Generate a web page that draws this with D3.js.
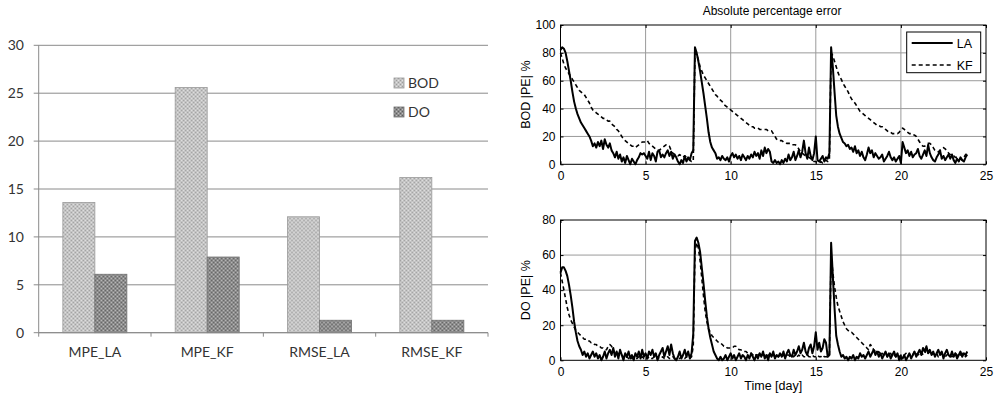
<!DOCTYPE html>
<html>
<head>
<meta charset="utf-8">
<script src="https://cdn.jsdelivr.net/npm/d3@7"></script>
<style>
body { margin: 0; background: #fff; }
svg { display: block; }
.xl { font-family: Lato, "Open Sans", sans-serif; font-size: 14px; fill: #333; }
.ml { font-family: "Liberation Sans", Arial, sans-serif; fill: #000; }
</style>
</head>
<body>
<script>
"use strict";

///////////////////
// data
///////////////////

// left: error indices (bar chart)
var categories = ["MPE_LA", "MPE_KF", "RMSE_LA", "RMSE_KF"];
var seriesNames = ["BOD", "DO"];
var bodValues = [13.6, 25.6, 12.1, 16.2];
var doValues = [6.1, 7.9, 1.3, 1.3];
var barTicks = [0, 5, 10, 15, 20, 25, 30];

// right: absolute percentage error, one value every 0.1 day
var timeStep = 0.1;
var timeTicks = [0, 5, 10, 15, 20, 25];
var bodTicks = [0, 20, 40, 60, 80, 100];
var doTicks = [0, 20, 40, 60, 80];

var bodLA = [
    82, 84, 83, 80, 74, 67, 60, 52, 45, 40,
    36, 33, 30, 28, 26, 24, 22, 20, 17, 13,
    15, 12, 16, 13, 17, 11, 18, 14, 12, 15,
    10, 8, 5, 9, 4, 7, 2, 5, 1, 6,
    3, 0, 4, 2, 0, 3, 5, 8, 7, 8,
    6, 4, 9, 3, 8, 6, 2, 9, 10, 5,
    7, 5, 8, 10, 6, 9, 4, 7, 5, 2,
    0, 3, 1, 6, 2, 5, 3, 8, 10, 84,
    80, 74, 67, 59, 51, 42, 33, 23, 16, 12,
    10, 8, 4, 5, 3, 6, 4, 3, 5, 2,
    6, 8, 5, 7, 4, 6, 3, 7, 5, 3,
    6, 4, 7, 5, 9, 6, 8, 4, 10, 6,
    12, 8, 11, 9, 2, 1, 3, 1, 2, 0,
    3, 1, 4, 2, 7, 3, 5, 9, 3, 6,
    10, 5, 9, 17, 8, 4, 12, 6, 3, 8,
    20, 3, 2, 4, 6, 2, 5, 4, 8, 84,
    70, 52, 35, 27, 22, 19, 16, 15, 13, 14,
    11, 12, 9, 13, 8, 10, 6, 9, 5, 3,
    7, 12, 8, 10, 5, 8, 6, 4, 5, 7,
    2, 4, 6, 9, 5, 3, 5, 2, 4, 6,
    1, 16, 12, 8, 10, 6, 9, 5, 7, 8,
    11, 6, 4, 7, 10, 6, 14, 8, 5, 3,
    2, 5, 7, 10, 4, 6, 3, 5, 7, 4,
    7, 3, 1, 4, 2, 5, 3, 2, 5, 7
];
var bodKF = [
    80, 76, 72, 69, 67, 65, 63, 61, 59, 57,
    55, 53, 52, 51, 50, 48, 46, 44, 41, 39,
    38, 37, 36, 35, 34, 33, 33, 32, 31, 31,
    29, 28, 27, 25, 24, 22, 20, 18, 17, 16,
    15, 14, 13, 13, 12, 13, 14, 15, 16, 16,
    16, 17, 15, 14, 13, 12, 11, 10, 10, 11,
    12, 13, 14, 14, 13, 10, 8, 7, 7, 6,
    7, 6, 5, 6, 5, 4, 3, 2, 2, 80,
    79, 75, 70, 67, 64, 62, 60, 58, 56, 54,
    52, 50, 49, 47, 46, 45, 43, 42, 41, 40,
    39, 38, 37, 36, 35, 34, 33, 32, 31, 30,
    29, 28, 27, 27, 26, 26, 26, 25, 25, 25,
    25, 25, 24, 24, 24, 22, 20, 18, 17, 17,
    17, 16, 16, 15, 15, 15, 14, 14, 14, 13,
    11, 9, 8, 7, 6, 6, 5, 4, 3, 2,
    2, 1, 1, 2, 1, 2, 3, 2, 3, 80,
    78, 74, 70, 66, 63, 61, 58, 56, 54, 52,
    49, 47, 45, 44, 42, 40, 38, 37, 36, 35,
    34, 33, 32, 31, 30, 29, 28, 28, 27, 27,
    26, 25, 24, 23, 23, 22, 22, 22, 22, 23,
    25, 26, 25, 24, 23, 22, 22, 21, 21, 20,
    18, 16, 14, 13, 13, 14, 15, 15, 14, 12,
    10, 9, 9, 10, 11, 12, 11, 10, 8, 7,
    6, 6, 5, 5, 4, 4, 3, 5, 7, 8
];
var doLA = [
    50, 53, 53, 51, 48, 43, 37, 30, 22, 16,
    11, 8, 6, 3, 5, 2, 4, 1, 3, 5,
    2, 4, 1, 3, 0, 2, 5, 1, 4, 6,
    3, 7, 2, 5, 1, 6, 3, 0, 4, 2,
    5, 1, 3, 0, 4, 2, 5, 1, 6, 2,
    4, 1, 5, 3, 6, 2, 4, 0, 3, 5,
    7, 2, 5, 8, 3, 9, 4, 1, 0, 2,
    5, 1, 3, 6, 2, 5, 1, 4, 15, 68,
    70, 67, 62, 53, 44, 34, 25, 18, 13, 9,
    5, 3, 1, 0, 2, 0, 1, 3, 0, 2,
    4, 1, 3, 0, 2, 4, 1, 3, 2, 0,
    3, 1, 4, 2, 0, 3, 1, 4, 2, 5,
    1, 3, 0, 4, 2, 5, 1, 3, 2, 4,
    2, 5, 1, 4, 6, 3, 2, 6, 3, 5,
    8, 4, 6, 10, 5, 3, 7, 9, 4, 8,
    16, 6, 10, 5, 7, 12, 10, 2, 3, 67,
    48, 30, 14, 9, 5, 2, 3, 1, 2, 0,
    2, 1, 3, 0, 2, 1, 4, 2, 3, 1,
    3, 5, 2, 4, 6, 3, 5, 2, 4, 1,
    3, 5, 2, 4, 1, 3, 5, 2, 4, 0,
    2, 1, 3, 0, 2, 4, 1, 3, 5, 2,
    4, 6, 3, 7, 5, 8, 4, 6, 3, 5,
    2, 4, 6, 3, 5, 1, 4, 6, 3, 2,
    5, 2, 4, 1, 3, 5, 2, 4, 3, 5
];
var doKF = [
    50, 45, 40, 35, 30, 26, 23, 21, 19, 17,
    16, 15, 14, 13, 12, 12, 11, 11, 10, 10,
    9, 9, 8, 8, 7, 7, 6, 6, 8, 9,
    8, 6, 4, 3, 4, 2, 3, 2, 1, 2,
    1, 2, 1, 2, 1, 1, 2, 1, 2, 1,
    2, 1, 2, 1, 1, 2, 1, 2, 1, 1,
    2, 1, 1, 2, 1, 1, 2, 1, 1, 1,
    1, 2, 1, 1, 2, 1, 1, 2, 8, 62,
    67, 64, 57, 47, 37, 28, 22, 18, 16, 14,
    13, 12, 11, 10, 10, 9, 8, 8, 7, 7,
    7, 7, 8, 8, 7, 6, 6, 5, 5, 5,
    4, 4, 4, 3, 4, 3, 3, 4, 3, 3,
    3, 2, 3, 3, 2, 3, 2, 3, 2, 3,
    2, 3, 2, 3, 3, 2, 3, 2, 3, 2,
    3, 2, 3, 2, 2, 3, 2, 2, 3, 2,
    2, 3, 2, 2, 3, 2, 2, 2, 3, 60,
    50, 42, 36, 31, 28, 25, 22, 20, 18, 17,
    16, 16, 15, 14, 13, 12, 11, 10, 9, 8,
    7, 6, 9, 8, 6, 5, 4, 5, 3, 4,
    3, 4, 2, 3, 4, 2, 3, 2, 3, 2,
    3, 2, 3, 4, 2, 3, 4, 3, 5, 4,
    3, 4, 5, 3, 4, 6, 4, 5, 3, 4,
    3, 4, 2, 3, 4, 3, 2, 3, 4, 3,
    2, 3, 4, 3, 2, 3, 4, 3, 2, 3
];

///////////////////
// functions
///////////////////

function addDotPattern(defs, id, base, dark, light) {
    var p = defs.append("pattern")
        .attr("id", id)
        .attr("width", 4)
        .attr("height", 4)
        .attr("patternUnits", "userSpaceOnUse");
    p.append("rect").attr("width", 4).attr("height", 4).attr("fill", base);
    [[0, 0], [2, 2]].forEach(function(c) {
        p.append("rect").attr("x", c[0]).attr("y", c[1])
            .attr("width", 1).attr("height", 1).attr("fill", dark);
    });
    [[2, 0], [0, 2]].forEach(function(c) {
        p.append("rect").attr("x", c[0]).attr("y", c[1])
            .attr("width", 1).attr("height", 1).attr("fill", light);
    });
}

// one matlab-like panel: box, grid, inward ticks, tick labels
function drawPanel(svg, x, y, yTicks, series, yLabel, showXLabel) {
    var g = svg.append("g");
    var x0 = x.range()[0], x1 = x.range()[1];
    var y0 = y.range()[0], y1 = y.range()[1];

    // grid
    g.selectAll("line.gx")
        .data(timeTicks.slice(1, -1))
        .enter().append("line")
        .attr("x1", function(d) { return x(d); })
        .attr("x2", function(d) { return x(d); })
        .attr("y1", y0).attr("y2", y1)
        .attr("stroke", "#9a9a9a").attr("stroke-width", 1);
    g.selectAll("line.gy")
        .data(yTicks.slice(1, -1))
        .enter().append("line")
        .attr("x1", x0).attr("x2", x1)
        .attr("y1", function(d) { return y(d); })
        .attr("y2", function(d) { return y(d); })
        .attr("stroke", "#9a9a9a").attr("stroke-width", 1);

    // lines
    series.forEach(function(s) {
        var line = d3.line()
            .x(function(d, i) { return x(i * timeStep); })
            .y(function(d) { return y(d); });
        g.append("path")
            .datum(s.values)
            .attr("d", line)
            .attr("fill", "none")
            .attr("stroke", "#000")
            .attr("stroke-width", s.dash ? 1.6 : 2)
            .attr("stroke-dasharray", s.dash ? "4,3" : null)
            .attr("stroke-linejoin", "round");
    });

    // axes (ticks point inwards)
    g.append("g")
        .attr("class", "ml")
        .attr("transform", "translate(0," + y0 + ")")
        .call(d3.axisBottom(x).tickValues(timeTicks).tickSizeInner(-3).tickSizeOuter(0).tickPadding(7))
        .call(function(a) { a.select(".domain").remove(); a.selectAll("text").attr("font-size", 12).attr("fill", "#000"); });
    g.append("g")
        .attr("transform", "translate(0," + y1 + ")")
        .call(d3.axisTop(x).tickValues(timeTicks).tickSizeInner(-3).tickSizeOuter(0).tickFormat(""))
        .call(function(a) { a.select(".domain").remove(); });
    g.append("g")
        .attr("class", "ml")
        .attr("transform", "translate(" + x0 + ",0)")
        .call(d3.axisLeft(y).tickValues(yTicks).tickSizeInner(-3).tickSizeOuter(0).tickPadding(5))
        .call(function(a) { a.select(".domain").remove(); a.selectAll("text").attr("font-size", 12).attr("fill", "#000"); });
    g.append("g")
        .attr("transform", "translate(" + x1 + ",0)")
        .call(d3.axisRight(y).tickValues(yTicks).tickSizeInner(-3).tickSizeOuter(0).tickFormat(""))
        .call(function(a) { a.select(".domain").remove(); });

    // box
    g.append("rect")
        .attr("x", x0).attr("y", y1)
        .attr("width", x1 - x0).attr("height", y0 - y1)
        .attr("fill", "none").attr("stroke", "#000").attr("stroke-width", 1);

    // y label
    g.append("text")
        .attr("class", "ml")
        .attr("transform", "translate(" + (x0 - 31) + "," + ((y0 + y1) / 2) + ") rotate(-90)")
        .attr("text-anchor", "middle")
        .attr("font-size", 12.5)
        .text(yLabel);

    if (showXLabel) {
        g.append("text")
            .attr("class", "ml")
            .attr("x", (x0 + x1) / 2)
            .attr("y", y0 + 30)
            .attr("text-anchor", "middle")
            .attr("font-size", 12.5)
            .text("Time [day]");
    }
    return g;
}

(function() {

    var svg = d3.select("body").append("svg")
        .attr("width", 996)
        .attr("height", 398);

    var defs = svg.append("defs");
    addDotPattern(defs, "patBOD", "#c4c4c4", "#9e9e9e", "#e2e2e2");
    addDotPattern(defs, "patDO", "#8c8c8c", "#606060", "#bdbdbd");
    var patterns = { "BOD": "url(#patBOD)", "DO": "url(#patDO)" };
    var edges = { "BOD": "#9a9a9a", "DO": "#707070" };

    ///////////////////
    // left: bar chart
    ///////////////////

    var bx = d3.scaleBand()
        .domain(categories)
        .range([38.7, 488])
        .paddingInner(0.43)
        .paddingOuter(0.215);
    var bs = d3.scaleBand()
        .domain(seriesNames)
        .range([0, bx.bandwidth()]);
    var by = d3.scaleLinear()
        .domain([0, 30])
        .range([332.7, 45.3]);

    var rows = categories.map(function(c, i) {
        return { cat: c, values: [
            { name: "BOD", value: bodValues[i] },
            { name: "DO", value: doValues[i] }
        ] };
    });

    // gridlines + y labels
    svg.selectAll("line.bgrid")
        .data(barTicks)
        .enter().append("line")
        .attr("class", "bgrid")
        .attr("x1", 33.7).attr("x2", 488)
        .attr("y1", function(d) { return by(d); })
        .attr("y2", function(d) { return by(d); })
        .attr("stroke", "#8a8a8a").attr("stroke-width", 1);
    svg.selectAll("text.bytick")
        .data(barTicks)
        .enter().append("text")
        .attr("class", "xl bytick")
        .attr("x", 24)
        .attr("y", function(d) { return by(d) + 5; })
        .attr("text-anchor", "end")
        .text(function(d) { return d; });

    // value axis line
    svg.append("line")
        .attr("x1", 38.7).attr("x2", 38.7)
        .attr("y1", by(30)).attr("y2", by(0))
        .attr("stroke", "#8a8a8a").attr("stroke-width", 1);

    // bars
    var groups = svg.selectAll("g.cat")
        .data(rows)
        .enter().append("g")
        .attr("class", "cat")
        .attr("transform", function(d) { return "translate(" + bx(d.cat) + ",0)"; });
    groups.selectAll("rect")
        .data(function(d) { return d.values; })
        .enter().append("rect")
        .attr("x", function(d) { return bs(d.name); })
        .attr("y", function(d) { return by(d.value); })
        .attr("width", bs.bandwidth())
        .attr("height", function(d) { return by(0) - by(d.value); })
        .attr("fill", function(d) { return patterns[d.name]; })
        .attr("stroke", function(d) { return edges[d.name]; })
        .attr("stroke-width", 0.8);

    // category axis
    svg.append("line")
        .attr("x1", 38.7).attr("x2", 488)
        .attr("y1", by(0)).attr("y2", by(0))
        .attr("stroke", "#8a8a8a").attr("stroke-width", 1);
    var step = bx.step();
    svg.selectAll("line.btick")
        .data(d3.range(categories.length + 1))
        .enter().append("line")
        .attr("x1", function(i) { return 38.7 + i * step; })
        .attr("x2", function(i) { return 38.7 + i * step; })
        .attr("y1", by(0)).attr("y2", by(0) + 4)
        .attr("stroke", "#8a8a8a");
    svg.selectAll("text.bcat")
        .data(categories)
        .enter().append("text")
        .attr("class", "xl bcat")
        .attr("x", function(d) { return bx(d) + bx.bandwidth() / 2; })
        .attr("y", 357)
        .attr("text-anchor", "middle")
        .text(function(d) { return d; });

    // legend
    var leg = svg.selectAll("g.bleg")
        .data(seriesNames)
        .enter().append("g")
        .attr("class", "bleg")
        .attr("transform", function(d, i) { return "translate(394," + (78 + i * 29) + ")"; });
    leg.append("rect")
        .attr("width", 10).attr("height", 10)
        .attr("fill", function(d) { return patterns[d]; })
        .attr("stroke", function(d) { return edges[d]; })
        .attr("stroke-width", 0.8);
    leg.append("text")
        .attr("class", "xl")
        .attr("x", 14)
        .attr("y", 10)
        .text(function(d) { return d; });

    ///////////////////
    // right: APE panels
    ///////////////////

    var tx = d3.scaleLinear().domain([0, 25]).range([560.5, 986]);
    var yTop = d3.scaleLinear().domain([0, 100]).range([164.3, 25]);
    var yBot = d3.scaleLinear().domain([0, 80]).range([360.3, 220]);

    drawPanel(svg, tx, yTop, bodTicks,
        [{ values: bodKF, dash: true }, { values: bodLA, dash: false }],
        "BOD |PE| %", false);
    drawPanel(svg, tx, yBot, doTicks,
        [{ values: doKF, dash: true }, { values: doLA, dash: false }],
        "DO |PE| %", true);

    svg.append("text")
        .attr("class", "ml")
        .attr("x", 772)
        .attr("y", 15)
        .attr("text-anchor", "middle")
        .attr("font-size", 12)
        .text("Absolute percentage error");

    // legend box
    var lg = svg.append("g").attr("transform", "translate(906.7,32)");
    lg.append("rect")
        .attr("width", 74).attr("height", 40.7)
        .attr("fill", "#fff").attr("stroke", "#000").attr("stroke-width", 1);
    [{ name: "LA", dash: false }, { name: "KF", dash: true }].forEach(function(d, i) {
        var yy = 11 + i * 22;
        lg.append("line")
            .attr("x1", 5).attr("x2", 46)
            .attr("y1", yy).attr("y2", yy)
            .attr("stroke", "#000")
            .attr("stroke-width", d.dash ? 1.6 : 2)
            .attr("stroke-dasharray", d.dash ? "4,3" : null);
        lg.append("text")
            .attr("class", "ml")
            .attr("x", 50)
            .attr("y", yy + 4.5)
            .attr("font-size", 12.5)
            .text(d.name);
    });

})();
</script>
</body>
</html>
